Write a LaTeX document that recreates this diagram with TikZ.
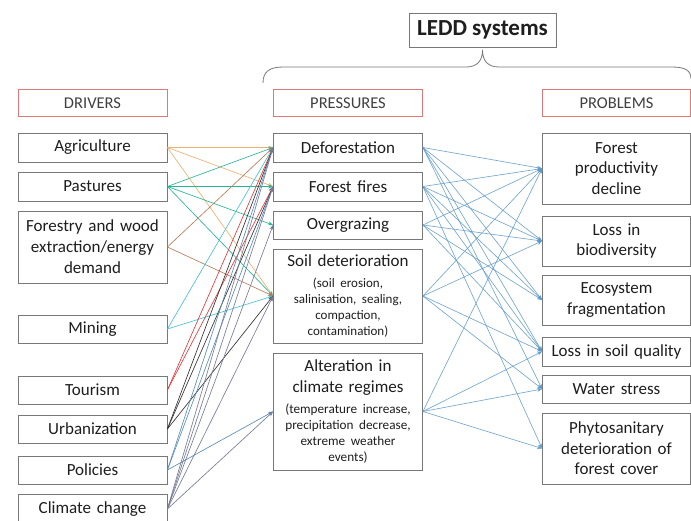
\documentclass[tikz,border=0pt]{standalone}
\usepackage{fontspec}
\setmainfont{Carlito}
\usetikzlibrary{arrows.meta}
\definecolor{boxgray}{RGB}{120,120,120}
\definecolor{hdrred}{RGB}{222,120,122}
\definecolor{textc}{RGB}{30,30,30}
\definecolor{cAgr}{RGB}{238,176,112}
\definecolor{cPas}{RGB}{40,180,150}
\definecolor{cFor}{RGB}{184,124,88}
\definecolor{cMin}{RGB}{72,192,214}
\definecolor{cTou}{RGB}{224,58,62}
\definecolor{cUrb}{RGB}{50,50,50}
\definecolor{cPol}{RGB}{90,140,185}
\definecolor{cCli}{RGB}{120,124,150}
\definecolor{cRight}{RGB}{92,152,200}
\begin{document}
\begin{tikzpicture}[x=1pt,y=-1pt,
  box/.style={draw=boxgray, line width=0.8pt, fill=white, inner xsep=2pt, inner ysep=0pt,
    text width=145pt, align=center, text=textc, font=\fontsize{17}{20.5}\selectfont},
  rbox/.style={box, text width=144pt},
  hdr/.style={draw=hdrred, line width=0.7pt, inner xsep=2pt, inner ysep=0pt, minimum height=27pt,
    text width=145pt, align=center, text=textc!85, font=\fontsize{16.5}{19}\selectfont},
  conn/.style={-{Stealth[length=5pt,width=4pt]}, line width=0.65pt},
  rconn/.style={conn, color=cRight, opacity=0.85}
]
\useasboundingbox (0,0) rectangle (691,520);

% title and brace
\node[draw=boxgray, line width=0.8pt, fill=white, text=textc, inner sep=0pt,
  minimum width=147pt, minimum height=34pt, font=\bfseries\fontsize{23}{26}\selectfont]
  (ledd) at (482.5,30) {LEDD systems};
\coordinate (tip) at (482.5,50);
\draw[boxgray, line width=0.8pt] (263,83) .. controls (263,72) and (269,67) .. (283,67)
  -- (466,67) .. controls (477,67) and (482.5,61) .. (tip)
  .. controls (482.5,61) and (488,67) .. (499,67) -- (672,67)
  .. controls (686,67) and (691,71) .. (691,79);

% headers
\node[hdr] (hd) at (92.5,103) {DRIVERS};
\node[hdr] (hp) at (348,103) {PRESSURES};
\node[hdr, text width=144pt] (hq) at (616.5,103) {PROBLEMS};

% drivers
\node[box, minimum height=29pt] (agr) at (92.5,147.5) {Agriculture};
\node[box, minimum height=29pt] (pas) at (92.5,186.5) {Pastures};
\node[box, minimum height=72pt, font=\fontsize{17}{21}\selectfont] (for) at (92.5,247) {Forestry and wood\\extraction/energy\\demand};
\node[box, minimum height=28pt] (min) at (92.5,329) {Mining};
\node[box, minimum height=28pt] (tou) at (92.5,390) {Tourism};
\node[box, minimum height=28pt] (urb) at (92.5,429) {Urbanization};
\node[box, minimum height=28pt] (pol) at (92.5,470) {Policies};
\node[box, minimum height=30pt] (cli) at (92.5,509) {Climate change};

% pressures
\node[box, minimum height=29pt] (def) at (348,147.5) {Deforestation};
\node[box, minimum height=29pt] (fir) at (348,186.5) {Forest fires};
\node[box, minimum height=28pt] (ovg) at (348,225) {Overgrazing};
\node[box, minimum height=94pt] (soil) at (348,296) {Soil deterioration\par
  \parbox[t]{145pt}{\centering\fontsize{13}{16}\selectfont (soil erosion,\\ salinisation, sealing,\\ compaction,\\ contamination)\par}};
\node[box, minimum height=117pt, font=\fontsize{17}{21}\selectfont] (alt) at (348,411.5) {Alteration in\\ climate regimes\par
  \parbox[t]{145pt}{\centering\fontsize{13.2}{16}\selectfont (temperature increase,\\ precipitation decrease,\\ extreme weather\\ events)\par}};

% problems
\node[rbox, minimum height=71pt] (fpd) at (616.5,168.5) {Forest\\ productivity\\ decline};
\node[rbox, minimum height=50pt] (bio) at (616.5,241) {Loss in\\ biodiversity};
\node[rbox, minimum height=50pt] (eco) at (616.5,300) {Ecosystem\\ fragmentation};
\node[rbox, minimum height=29pt] (lsq) at (616.5,351.5) {Loss in soil quality};
\node[rbox, minimum height=28pt] (wat) at (616.5,389) {Water stress};
\node[rbox, minimum height=71pt] (phy) at (616.5,448.5) {Phytosanitary\\ deterioration of\\ forest cover};

% drivers -> pressures
\foreach \s/\t/\c in {agr/def/cAgr, agr/fir/cAgr, agr/soil/cAgr,
    pas/def/cPas, pas/fir/cPas, pas/ovg/cPas, pas/soil/cPas,
    for/def/cFor, for/soil/cFor,
    min/def/cMin, min/soil/cMin,
    tou/def/cTou, tou/fir/cTou,
    urb/def/cUrb, urb/fir/cUrb, urb/soil/cUrb,
    pol/def/cPol, pol/fir/cPol, pol/alt/cPol,
    cli/def/cCli, cli/fir/cCli, cli/ovg/cCli, cli/soil/cCli, cli/alt/cCli}
  \draw[conn, color=\c] (\s.east) -- (\t.west);

% pressures -> problems
\foreach \s/\t in {def/fpd, def/bio, def/eco, def/lsq, def/wat,
    fir/fpd, fir/bio, fir/eco, fir/lsq, fir/phy,
    ovg/fpd, ovg/bio, ovg/eco, ovg/lsq,
    soil/fpd, soil/bio, soil/lsq, soil/wat,
    alt/fpd, alt/lsq, alt/wat, alt/phy}
  \draw[rconn] (\s.east) -- (\t.west);
\end{tikzpicture}
\end{document}
